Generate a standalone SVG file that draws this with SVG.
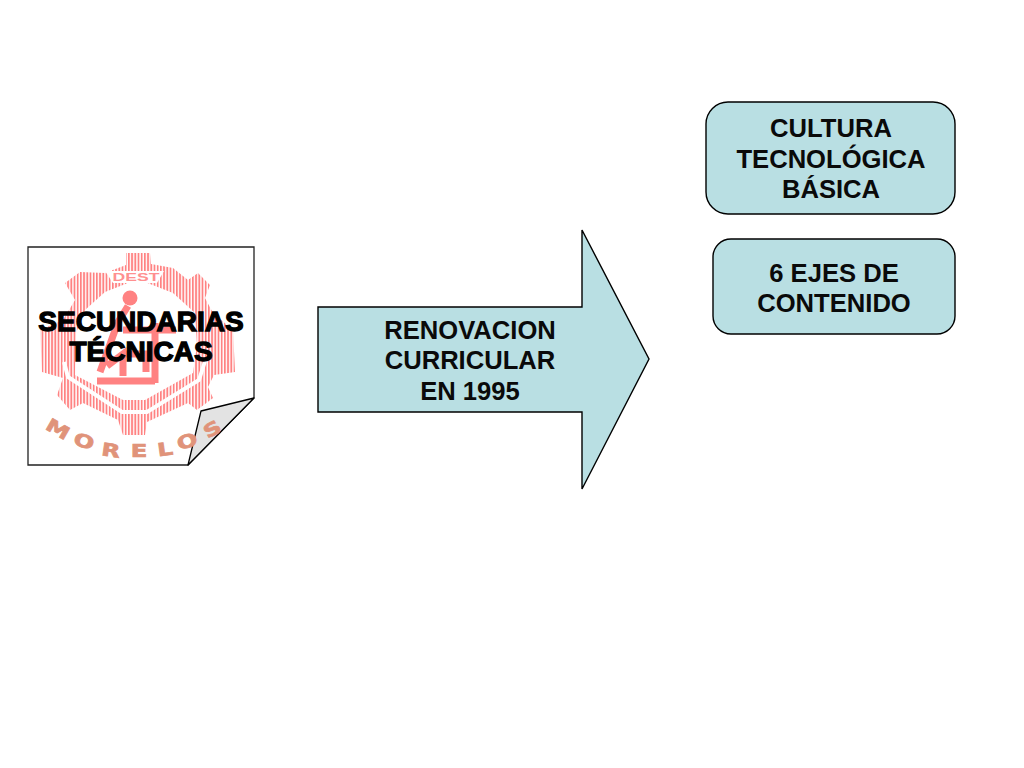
<svg xmlns="http://www.w3.org/2000/svg" width="1024" height="768" viewBox="0 0 1024 768">
<style>
.n{fill:#b9dfe3;stroke:#000;stroke-width:1.4}
.t{font-family:"Liberation Sans",Arial,sans-serif;font-weight:700;font-size:25.6px;fill:#0a0a0a;text-anchor:middle}
.s{font-family:"Liberation Sans",Arial,sans-serif;font-weight:700;font-size:28px;fill:#000;stroke:#000;stroke-width:1.3;text-anchor:middle}
.m{font-family:"DejaVu Sans",sans-serif;font-weight:700;font-size:18px;fill:#e0937a;stroke:#e0937a;stroke-width:.7;text-anchor:middle}
.w{fill:none;stroke:#fff;stroke-linejoin:miter}
.p{fill:none;stroke:#ff8282;stroke-width:7}
</style>
<defs>
<pattern id="st" width="3.2" height="10" patternUnits="userSpaceOnUse"><rect width="3.2" height="10" fill="#fff"/><rect width="1.8" height="10" fill="#ff8282"/></pattern>
</defs>
<rect width="1024" height="768" fill="#fff"/>
<g id="logo-page">
<path d="M28 247H254V398L188 465H28Z" fill="#fff" stroke="#222" stroke-width="1.3"/>
<path d="M254 398L201 411L188 465Z" fill="#e3e3e3" stroke="#000" stroke-width="1.3" stroke-linejoin="round"/>
<path fill="url(#st)" d="M126 253H150L151 264L173 268L188 280L198 273L210 285L205 298L213 313L233 330L235 372L214 375L208 387L213 398L197 410L188 403L147 422L145 435H123L118 420L83 403L70 410L57 395L63 378L42 372L40 330L63 320L75 300L65 283L80 272L105 273L126 265Z"/>
<path fill="#fff" d="M128 283L105 292L85 310L76 333L75 375L123 400H145L193 373L197 345L195 313L173 293L145 282Z"/>
<path class="w" stroke-width="4" d="M64 362L68 377L122 412H147L199 380L206 358"/>
<path fill="#fff" d="M105 271H164L157 283H113Z"/>
<text x="136" y="281" font-family="Liberation Sans,sans-serif" font-weight="700" font-size="10.5" fill="#ff9090" text-anchor="middle" textLength="47" lengthAdjust="spacingAndGlyphs">DEST</text>
<circle cx="130" cy="298" r="7.5" fill="#ff8282"/>
<path class="p" d="M128 306L118 322L100 372M123 330H176M155 323V383M97 381H155M107 366L123 354V376M123 354H146V372"/>
<g class="m">
<text y="6.5" transform="translate(58 429) rotate(30) scale(1.35 1)">M</text>
<text y="6.5" transform="translate(84 441) rotate(18) scale(1.35 1)">O</text>
<text y="6.5" transform="translate(111 450) rotate(8) scale(1.35 1)">R</text>
<text y="6.5" transform="translate(139 450) scale(1.35 1)">E</text>
<text y="6.5" transform="translate(165 449) rotate(-8) scale(1.35 1)">L</text>
<text y="6.5" transform="translate(187 441) rotate(-18) scale(1.35 1)">O</text>
<text y="6.5" transform="translate(212 429) rotate(-30) scale(1.35 1)">S</text>
</g>
<text class="s" x="141" y="331">SECUNDARIAS</text>
<text class="s" x="141" y="361">TÉCNICAS</text>
</g>
<g id="connectors">
<path class="n" d="M318 307H582V230L649 359L582 489V412H318Z"/>
<text class="t" x="470" y="339">RENOVACION</text>
<text class="t" x="470" y="369">CURRICULAR</text>
<text class="t" x="470" y="400">EN 1995</text>
</g>
<g id="node-cultura">
<rect class="n" x="706" y="102" width="249" height="112" rx="22"/>
<text class="t" x="831" y="137">CULTURA</text>
<text class="t" x="831" y="168">TECNOLÓGICA</text>
<text class="t" x="831" y="198">BÁSICA</text>
</g>
<g id="node-ejes">
<rect class="n" x="713" y="239" width="242" height="95" rx="18"/>
<text class="t" x="834" y="282">6 EJES DE</text>
<text class="t" x="834" y="312">CONTENIDO</text>
</g>
</svg>
